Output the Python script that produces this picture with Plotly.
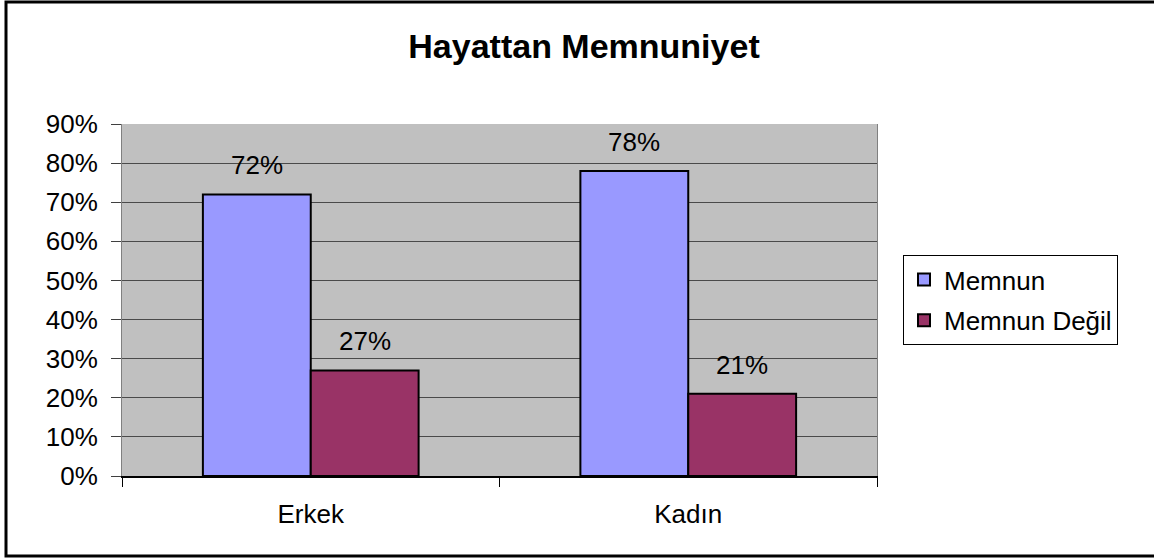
import plotly.graph_objects as go

categories = ["Erkek", "Kadın"]
series_names = ["Memnun", "Memnun Değil"]
memnun = [0.72, 0.78]
memnun_degil = [0.27, 0.21]
y_ticks = [0, 0.1, 0.2, 0.3, 0.4, 0.5, 0.6, 0.7, 0.8, 0.9]
title_text = "Hayattan Memnuniyet"

colors = ["#9999FF", "#993366"]
FONT = "Arial, Liberation Sans, sans-serif"
FS = 26

W, H = 1154, 558
ML, MR, MT, MB = 122, 277, 124, 82
PW, PH = W - ML - MR, H - MT - MB

fig = go.Figure()
for name, vals, col in zip(series_names, [memnun, memnun_degil], colors):
    fig.add_trace(go.Bar(
        x=categories, y=vals, name=name, legendgroup=name,
        marker=dict(color=col, line=dict(color="black", width=2)),
    ))

bargap = 1.5 / 3.5
bw = (1 - bargap) / 2
annotations = []
for si, vals in enumerate([memnun, memnun_degil]):
    for ci, v in enumerate(vals):
        annotations.append(dict(
            x=ci + (si - 0.5) * bw, y=v, xref="x", yref="y",
            text=f"{round(v * 100)}%", showarrow=False,
            yanchor="middle", yshift=29,
            font=dict(family=FONT, size=FS, color="black"),
        ))

fig.update_layout(
    width=W, height=H,
    margin=dict(l=ML, r=MR, t=MT, b=MB, autoexpand=False),
    paper_bgcolor="white", plot_bgcolor="#C0C0C0",
    barmode="group", bargap=bargap, bargroupgap=0,
    title=dict(text=f"<b>{title_text}</b>", x=584 / W, xanchor="center",
               y=1 - 46 / H, yanchor="middle",
               font=dict(family=FONT, size=34, color="black")),
    font=dict(family=FONT, size=FS, color="black"),
    showlegend=True,
    legend=dict(
        x=(903 - ML) / PW, xanchor="left",
        y=(H - MB - 255) / PH, yanchor="top",
        bgcolor="white", bordercolor="black", borderwidth=1,
        font=dict(family=FONT, size=FS, color="black"),
        tracegroupgap=4,
    ),
    annotations=annotations,
    shapes=[dict(
        type="path", xref="paper", yref="paper",
        path=(f"M {(1300 - ML) / PW},{(H - MB - 2) / PH} "
              f"L {(6 - ML) / PW},{(H - MB - 2) / PH} "
              f"L {(6 - ML) / PW},{(H - MB - 556) / PH} "
              f"L {(1300 - ML) / PW},{(H - MB - 556) / PH}"),
        line=dict(color="black", width=3),
        layer="above",
    )],
)

fig.update_yaxes(
    range=[0, 0.9], tickvals=y_ticks, tickformat=".0%",
    showgrid=True, gridcolor="#4a4a4a", gridwidth=1,
    showline=True, linecolor="#808080", linewidth=1, mirror=True,
    ticks="outside", ticklen=10, tickcolor="#404040",
    ticklabelstandoff=8,
    zeroline=False,
    tickfont=dict(family=FONT, size=FS, color="black"),
)
fig.update_xaxes(
    showline=True, linecolor="black", linewidth=2,
    ticks="outside", ticklen=9, tickcolor="black", tickwidth=1,
    tickson="boundaries",
    ticklabelstandoff=14,
    tickfont=dict(family=FONT, size=FS, color="black"),
)

fig.write_html("out.html", config={"displayModeBar": False},
               post_script="document.body.style.margin='0px';")
